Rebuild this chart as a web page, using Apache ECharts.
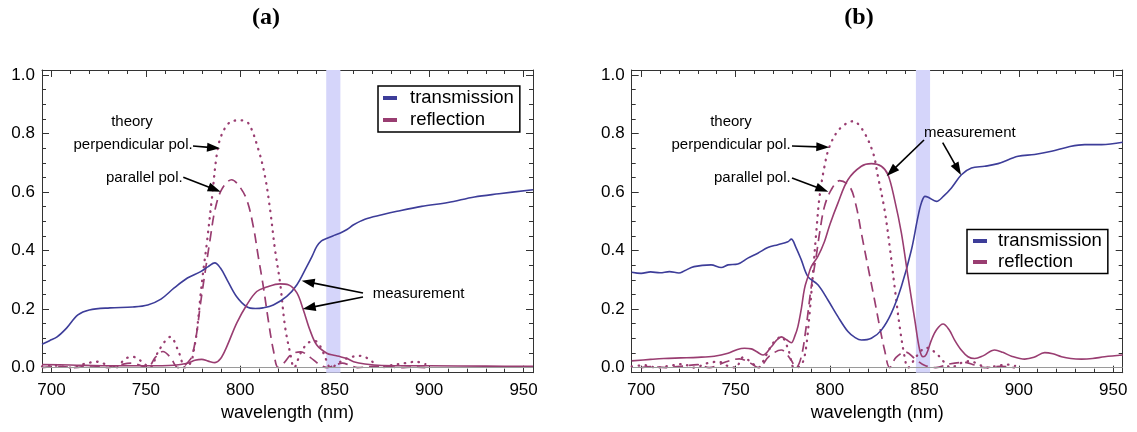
<!DOCTYPE html>
<html><head><meta charset="utf-8">
<script src="https://cdn.jsdelivr.net/npm/echarts@6/dist/echarts.min.js"></script>
<style>html,body{margin:0;padding:0;background:#fff}#c{width:1137px;height:432px}</style>
</head><body><div id="c"></div>
<script>
// ---------- data ----------
const xTickLabels = [700, 750, 800, 850, 900, 950];
const xMinorTicks = [710,720,730,740,760,770,780,790,810,820,830,840,860,870,880,890,910,920,930,940];
const yTickLabels = [0, 0.2, 0.4, 0.6, 0.8, 1.0];
const yMinorTicks = [0.05,0.1,0.15,0.25,0.3,0.35,0.45,0.5,0.55,0.65,0.7,0.75,0.85,0.9,0.95];
const bandNm = [845.5, 853];

// panel (a)
const aTransNm  = [695, 699, 703, 708, 714, 720, 731, 743, 751, 758, 765, 772, 779, 783, 786.5, 789.5, 793, 798, 803.4, 808, 812, 817.5, 824.6, 830, 835.2, 838, 840.5, 843, 846, 849, 853, 856.5, 860, 866, 875, 883, 896, 910, 924, 937, 955];
const aTransVal = [0.08, 0.092, 0.105, 0.135, 0.18, 0.197, 0.204, 0.207, 0.214, 0.234, 0.272, 0.306, 0.328, 0.345, 0.358, 0.34, 0.30, 0.243, 0.208, 0.202, 0.204, 0.214, 0.243, 0.283, 0.345, 0.38, 0.414, 0.433, 0.442, 0.45, 0.46, 0.472, 0.488, 0.507, 0.522, 0.534, 0.551, 0.564, 0.583, 0.594, 0.608];
const aReflNm   = [695, 710, 730, 750, 765, 772, 776, 779.6, 783, 786.6, 789.5, 792.8, 798.1, 803.4, 808.7, 814, 821, 825.4, 829.9, 833.4, 836.9, 840.5, 845.8, 849.5, 853, 856.5, 860, 866, 875, 900, 930, 955];
const aReflVal  = [0.01, 0.009, 0.006, 0.006, 0.008, 0.015, 0.025, 0.028, 0.022, 0.017, 0.03, 0.071, 0.152, 0.214, 0.26, 0.275, 0.286, 0.283, 0.256, 0.197, 0.128, 0.077, 0.049, 0.042, 0.037, 0.031, 0.02, 0.012, 0.007, 0.006, 0.005, 0.004];
const aPerpNm   = [695, 700, 705, 710, 717, 724, 730, 734, 739, 743, 748, 752, 757, 763, 767, 771, 774, 775.1, 776.9, 779, 780.4, 782.2, 784.9, 788.3, 792, 796, 800, 804.3, 809.6, 813.1, 815.8, 818.4, 821.1, 823.7, 826.4, 828.5, 832, 836, 840, 844, 848, 853, 858, 864, 869, 874, 880, 887, 893, 898];
const aPerpVal  = [0.004, 0.008, 0.004, 0.0, 0.012, 0.02, 0.008, 0.0, 0.03, 0.037, 0.02, 0.0, 0.06, 0.105, 0.06, 0.0, 0.02, 0.05, 0.118, 0.25, 0.33, 0.42, 0.574, 0.756, 0.82, 0.843, 0.845, 0.835, 0.745, 0.653, 0.539, 0.402, 0.288, 0.14, 0.05, 0.0, 0.05, 0.085, 0.09, 0.05, 0.0, 0.02, 0.035, 0.04, 0.025, 0.0, 0.008, 0.015, 0.02, 0.012];
const aParNm    = [695, 705, 712, 722, 730, 738, 743, 748, 751, 755, 759, 763, 767, 770, 772.5, 774.3, 776.9, 778.7, 781.3, 784, 786.6, 790.1, 795.4, 798.9, 803.4, 806.9, 809.5, 812.2, 814.8, 817.5, 820.1, 823, 827, 832, 837, 842, 846, 850, 854, 858, 862, 870, 876, 884, 892, 898];
const aParVal   = [0.0, 0.004, 0.0, 0.006, 0.0, 0.012, 0.015, 0.005, 0.0, 0.035, 0.055, 0.035, 0.0, 0.005, 0.02, 0.037, 0.118, 0.208, 0.323, 0.437, 0.539, 0.608, 0.642, 0.625, 0.574, 0.482, 0.38, 0.277, 0.163, 0.06, 0.0, 0.015, 0.045, 0.054, 0.035, 0.01, 0.0, 0.008, 0.015, 0.008, 0.0, 0.004, 0.005, 0.0, 0.002, 0.0];

// panel (b)
const bTransNm  = [695, 700, 705, 710, 715, 720, 723, 728, 737, 742.4, 746, 751.2, 756.5, 761.8, 767.1, 772.4, 777.7, 779.5, 782, 784.8, 788.3, 793.6, 798.9, 804.2, 809.5, 813, 816.6, 821.9, 827.2, 832.5, 837.8, 843.1, 846.6, 848.5, 850.3, 852, 856.4, 860, 864.3, 869.6, 874.9, 881.9, 889, 899.6, 908.3, 917.3, 926.1, 934.9, 943.8, 955];
const bTransVal = [0.326, 0.322, 0.327, 0.324, 0.328, 0.323, 0.331, 0.345, 0.351, 0.342, 0.351, 0.354, 0.374, 0.391, 0.41, 0.42, 0.43, 0.439, 0.41, 0.368, 0.311, 0.283, 0.231, 0.174, 0.123, 0.104, 0.094, 0.1, 0.128, 0.186, 0.277, 0.402, 0.516, 0.565, 0.585, 0.582, 0.568, 0.585, 0.614, 0.659, 0.682, 0.688, 0.697, 0.722, 0.728, 0.739, 0.754, 0.762, 0.762, 0.77];
const bReflNm   = [695, 705, 712, 721, 730, 738.7, 746, 751, 754.7, 758.3, 761, 764.5, 768.9, 771.5, 774.2, 777, 779.5, 781.5, 783, 784.8, 786.5, 788.3, 790.1, 793.6, 797.1, 800, 804.2, 809.5, 816.6, 821.9, 827.2, 830.7, 834.2, 837.8, 841.3, 844.9, 847.5, 849.3, 851, 853.7, 856.5, 859.9, 863, 866, 869.5, 873.1, 876.6, 881, 887.2, 891.5, 896.1, 903.1, 908, 913.7, 918, 922.6, 927.5, 933.2, 939, 945.4, 955];
const bReflVal  = [0.023, 0.028, 0.031, 0.033, 0.035, 0.039, 0.049, 0.062, 0.066, 0.064, 0.055, 0.043, 0.071, 0.092, 0.105, 0.095, 0.085, 0.11, 0.14, 0.2, 0.27, 0.31, 0.345, 0.38, 0.431, 0.49, 0.562, 0.642, 0.688, 0.697, 0.688, 0.659, 0.574, 0.46, 0.311, 0.163, 0.06, 0.037, 0.045, 0.094, 0.13, 0.149, 0.13, 0.094, 0.06, 0.037, 0.031, 0.04, 0.06, 0.052, 0.039, 0.029, 0.035, 0.051, 0.047, 0.037, 0.031, 0.029, 0.031, 0.037, 0.043];
const bPerpNm   = [695, 702, 708, 715, 722, 728, 735, 741, 746, 750, 754, 758, 762, 766, 770, 774.2, 778, 781, 783.5, 785.7, 787.4, 789.2, 791, 792.7, 794.5, 797.1, 799.8, 805, 812.2, 817.5, 822.8, 825.4, 828.9, 831.6, 834.2, 836.9, 839.5, 841.3, 846, 851, 856, 861, 864, 869, 874, 879, 883, 890, 895, 898];
const bPerpVal  = [0.004, 0.008, 0.0, 0.006, 0.012, 0.0, 0.015, 0.02, 0.005, 0.0, 0.035, 0.02, 0.0, 0.04, 0.085, 0.105, 0.06, 0.0, 0.002, 0.02, 0.071, 0.186, 0.323, 0.46, 0.585, 0.688, 0.756, 0.815, 0.842, 0.81, 0.734, 0.653, 0.539, 0.414, 0.277, 0.14, 0.037, 0.0, 0.04, 0.068, 0.05, 0.015, 0.0, 0.015, 0.022, 0.01, 0.0, 0.008, 0.01, 0.006];
const bParNm    = [700, 705, 713, 722, 730, 736, 745, 752, 758, 762, 768, 774.2, 779, 782, 784.8, 787.4, 790.1, 792.7, 794.5, 797.1, 800.7, 805.1, 810.4, 813.9, 816.6, 820.1, 823.6, 826.3, 828.9, 831.6, 835, 840, 845, 850, 856, 863, 871, 877, 882, 890, 898];
const bParVal   = [0.0, 0.003, 0.0, 0.005, 0.01, 0.0, 0.02, 0.03, 0.015, 0.0, 0.04, 0.06, 0.03, 0.0, 0.037, 0.14, 0.277, 0.38, 0.46, 0.551, 0.608, 0.639, 0.619, 0.551, 0.46, 0.345, 0.231, 0.14, 0.06, 0.0, 0.035, 0.053, 0.03, 0.008, 0.0, 0.012, 0.018, 0.008, 0.0, 0.004, 0.0];

// ---------- layout / style ----------
const X_MIN = 695, X_MAX = 955, Y_MIN = -0.0175, Y_MAX = 1.017;
const BLUE = '#3D3D99', PURPLE = '#993D71';
const FONT = 'Liberation Sans';
const FRAME = '#333';
const grids = [
  {left: 42, top: 70, width: 491, height: 302.7},
  {left: 631.7, top: 70, width: 491, height: 302.7}
];

function zip(a, b) { return a.map((v, i) => [v, b[i]]); }

const xAxes = [], yAxes = [];
grids.forEach((g, gi) => {
  const base = {type: 'value', gridIndex: gi, min: X_MIN, max: X_MAX, splitLine: {show: false}};
  xAxes.push(Object.assign({}, base, {
    position: 'bottom',
    name: 'wavelength (nm)', nameLocation: 'middle', nameGap: 31,
    nameTextStyle: {fontFamily: FONT, fontSize: 18, color: '#000'},
    axisLine: {show: true, onZero: false, lineStyle: {color: FRAME, width: 1}},
    axisTick: {show: true, inside: true, length: 7, customValues: xTickLabels, lineStyle: {color: FRAME}},
    axisLabel: {show: true, customValues: xTickLabels, margin: 9, fontFamily: FONT, fontSize: 17, color: '#000'}
  }));
  xAxes.push(Object.assign({}, base, {
    position: 'bottom', axisLine: {show: false, onZero: false},
    axisTick: {show: true, inside: true, length: 4, customValues: xMinorTicks, lineStyle: {color: FRAME}},
    axisLabel: {show: false}
  }));
  xAxes.push(Object.assign({}, base, {
    position: 'top',
    axisLine: {show: true, onZero: false, lineStyle: {color: FRAME, width: 1}},
    axisTick: {show: true, inside: true, length: 7, customValues: xTickLabels, lineStyle: {color: FRAME}},
    axisLabel: {show: false}
  }));
  xAxes.push(Object.assign({}, base, {
    position: 'top', axisLine: {show: false, onZero: false},
    axisTick: {show: true, inside: true, length: 4, customValues: xMinorTicks, lineStyle: {color: FRAME}},
    axisLabel: {show: false}
  }));
  const ybase = {type: 'value', gridIndex: gi, min: Y_MIN, max: Y_MAX, splitLine: {show: false}};
  yAxes.push(Object.assign({}, ybase, {
    position: 'left',
    axisLine: {show: true, onZero: false, lineStyle: {color: FRAME, width: 1}},
    axisTick: {show: true, inside: true, length: 7, customValues: yTickLabels, lineStyle: {color: FRAME}},
    axisLabel: {show: true, customValues: yTickLabels, margin: 7, fontFamily: FONT, fontSize: 17, color: '#000',
      formatter: v => Number(v).toFixed(1)}
  }));
  yAxes.push(Object.assign({}, ybase, {
    position: 'left', axisLine: {show: false, onZero: false},
    axisTick: {show: true, inside: true, length: 4, customValues: yMinorTicks, lineStyle: {color: FRAME}},
    axisLabel: {show: false}
  }));
  yAxes.push(Object.assign({}, ybase, {
    position: 'right',
    axisLine: {show: true, onZero: false, lineStyle: {color: FRAME, width: 1}},
    axisTick: {show: true, inside: true, length: 7, customValues: yTickLabels, lineStyle: {color: FRAME}},
    axisLabel: {show: false}
  }));
  yAxes.push(Object.assign({}, ybase, {
    position: 'right', axisLine: {show: false, onZero: false},
    axisTick: {show: true, inside: true, length: 4, customValues: yMinorTicks, lineStyle: {color: FRAME}},
    axisLabel: {show: false}
  }));
});

function line(name, gi, nm, val, color, kind, z) {
  const ls = {color: color, width: 1.6, type: 'solid'};
  if (kind === 'dotted') { ls.type = [0.5, 6.5]; ls.width = 2.3; ls.cap = 'round'; }
  if (kind === 'dashed') { ls.type = [10, 6]; ls.width = 1.7; }
  return {
    name: name, type: 'line', xAxisIndex: gi * 4, yAxisIndex: gi * 4,
    data: zip(nm, val), showSymbol: false, symbol: 'none', smooth: 0.35,
    color: color, itemStyle: {color: color}, lineStyle: ls, z: z, silent: true, clip: true
  };
}

const series = [];
[0, 1].forEach(gi => {
  series.push({
    name: 'band' + gi, type: 'line', xAxisIndex: gi * 4, yAxisIndex: gi * 4, data: [], z: 1, silent: true,
    markArea: {silent: true, itemStyle: {color: '#d5d5fa'}, data: [[{xAxis: bandNm[0]}, {xAxis: bandNm[1]}]]},
    markLine: {silent: true, symbol: ['none', 'none'], label: {show: false},
      lineStyle: {color: '#9a9a9a', width: 1, type: 'solid'}, data: [{yAxis: 0}]}
  });
});
series.push(line('transmission', 0, aTransNm, aTransVal, BLUE, 'solid', 4));
series.push(line('reflection', 0, aReflNm, aReflVal, PURPLE, 'solid', 4));
series.push(line('theory perpendicular a', 0, aPerpNm, aPerpVal, PURPLE, 'dotted', 3));
series.push(line('theory parallel a', 0, aParNm, aParVal, PURPLE, 'dashed', 3));
series.push(line('transmission', 1, bTransNm, bTransVal, BLUE, 'solid', 4));
series.push(line('reflection', 1, bReflNm, bReflVal, PURPLE, 'solid', 4));
series.push(line('theory perpendicular b', 1, bPerpNm, bPerpVal, PURPLE, 'dotted', 3));
series.push(line('theory parallel b', 1, bParNm, bParVal, PURPLE, 'dashed', 3));

// annotations
const annTexts = [
  {text: 'theory', x: 132, y: 122.3, align: 'center'},
  {text: 'perpendicular pol.', x: 192.7, y: 145, align: 'right'},
  {text: 'parallel pol.', x: 182.7, y: 177.7, align: 'right'},
  {text: 'measurement', x: 372.7, y: 294.3, align: 'left'},
  {text: 'theory', x: 731, y: 122.3, align: 'center'},
  {text: 'perpendicular pol.', x: 790.7, y: 145, align: 'right'},
  {text: 'parallel pol.', x: 790.7, y: 178, align: 'right'},
  {text: 'measurement', x: 924, y: 133.3, align: 'left'}
];
const annArrows = [
  [193, 146, 220, 148.3], [183.3, 177.3, 220.7, 191.7], [363, 293, 301.7, 280.7], [363, 297, 302.7, 309],
  [792, 146, 829.3, 147.3], [792, 178, 828.3, 191.7], [924, 140, 886.7, 176], [942.7, 142.7, 961, 175]
];
const graphics = [];
annTexts.forEach(t => graphics.push({
  type: 'text', x: t.x, y: t.y, z: 100,
  style: {text: t.text, fontFamily: FONT, fontSize: 15, fill: '#000', align: t.align, verticalAlign: 'middle'}
}));
annArrows.forEach(a => {
  const [x1, y1, x2, y2] = a;
  const dx = x2 - x1, dy = y2 - y1, L = Math.hypot(dx, dy), ux = dx / L, uy = dy / L;
  const hl = 13, hw = 4.5, bx = x2 - ux * hl, by = y2 - uy * hl;
  graphics.push({type: 'line', z: 100, shape: {x1: x1, y1: y1, x2: bx + ux * 2, y2: by + uy * 2},
    style: {stroke: '#000', lineWidth: 1.6}});
  graphics.push({type: 'polygon', z: 100,
    shape: {points: [[x2, y2], [bx - uy * hw, by + ux * hw], [bx + uy * hw, by - ux * hw]]},
    style: {fill: '#000'}});
});

const BAR_ICON = 'path://M0,0H14V4H0Z';
const legendItems = [
  {name: 'transmission', icon: BAR_ICON, itemStyle: {color: BLUE, borderWidth: 0, borderType: 'solid'}},
  {name: 'reflection', icon: BAR_ICON, itemStyle: {color: PURPLE, borderWidth: 0, borderType: 'solid'}}
];
const legendBase = {
  orient: 'vertical', data: legendItems, selectedMode: false, z: 10,
  icon: BAR_ICON, itemWidth: 14, itemHeight: 4, itemGap: 0,
  itemStyle: {borderWidth: 0, borderType: 'solid'},
  lineStyle: {type: 'solid', width: 0},
  borderColor: '#000', borderWidth: 1.5, backgroundColor: '#fff'
};

const chart = echarts.init(document.getElementById('c'), null, {renderer: 'canvas'});
chart.setOption({
  animation: false,
  backgroundColor: '#fff',
  title: [
    {text: '(a)', left: 266, top: 6, textAlign: 'center', padding: 0,
      textStyle: {fontFamily: 'Liberation Serif', fontWeight: 'bold', fontSize: 24, color: '#000'}},
    {text: '(b)', left: 859, top: 6, textAlign: 'center', padding: 0,
      textStyle: {fontFamily: 'Liberation Serif', fontWeight: 'bold', fontSize: 24, color: '#000'}}
  ],
  legend: [
    Object.assign({}, legendBase, {left: 378, top: 86, padding: [1, 6, 1, 5],
      textStyle: {fontFamily: FONT, fontSize: 18.5, color: '#000', lineHeight: 22, padding: [0, 0, 0, 8]}}),
    Object.assign({}, legendBase, {left: 967, top: 229.5, padding: [1, 6, 1, 6],
      textStyle: {fontFamily: FONT, fontSize: 18.5, color: '#000', lineHeight: 21, padding: [0, 0, 0, 6]}})
  ],
  grid: grids,
  xAxis: xAxes,
  yAxis: yAxes,
  series: series,
  graphic: graphics
});
</script></body></html>
